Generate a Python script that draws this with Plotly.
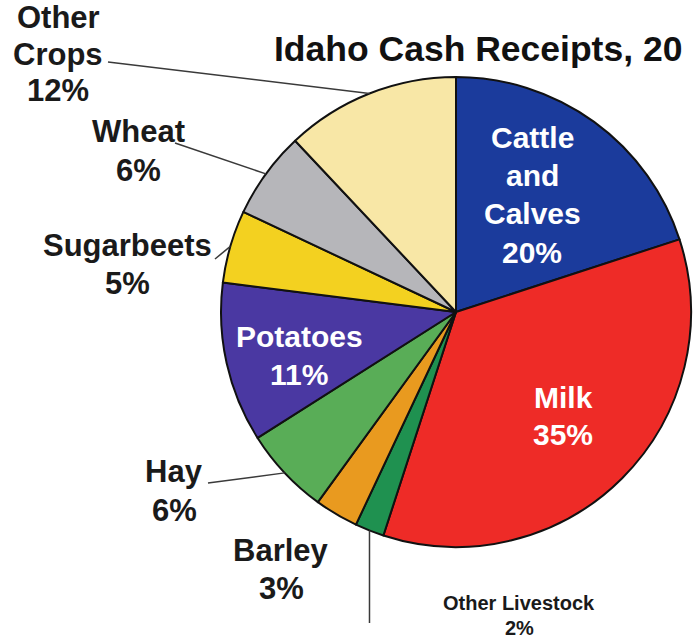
import math
import plotly.graph_objects as go

# Idaho cash receipts by commodity (percent of total), clockwise from 12 o'clock
categories = ["Cattle and Calves", "Milk", "Other Livestock", "Barley", "Hay",
              "Potatoes", "Sugarbeets", "Wheat", "Other Crops"]
shares = [20, 35, 2, 3, 6, 11, 5, 6, 12]
name_lines = [["Cattle", "and", "Calves"], ["Milk"], ["Other Livestock"], ["Barley"],
              ["Hay"], ["Potatoes"], ["Sugarbeets"], ["Wheat"], ["Other", "Crops"]]
slice_colors = ["#1b3b9c", "#ee2b27", "#1f9150", "#e99a1f", "#59ad57",
                "#4a38a2", "#f3d120", "#b6b6ba", "#f8e7a6"]
title_text = "Idaho Cash Receipts, 20"

W, H = 698, 641
FONT = "Liberation Sans, Arial, Helvetica, sans-serif"

# pie placement in pixels
CX, CY, R = 456, 312, 235


def px(x):
    return x / W


def py(y):
    return 1 - y / H


# label layout per category: centre x, first baseline, line step, size, colour
label_style = {
    "Cattle and Calves": (532, 148, 38.3, 30, "white"),
    "Milk": (563, 408, 37, 30, "white"),
    "Other Livestock": (519, 610, 25, 20, "#1a1a1a"),
    "Barley": (281, 562, 38, 31, "#1a1a1a"),
    "Hay": (174, 483, 39, 31, "#1a1a1a"),
    "Potatoes": (299, 347, 38, 30, "white"),
    "Sugarbeets": (127, 257, 38, 31, "#1a1a1a"),
    "Wheat": (138, 143, 39, 31, "#1a1a1a"),
    "Other Crops": (58, 29, 36.5, 31, "#1a1a1a"),
}

# leader line start points (label side) for outside labels
leader_from = {
    "Other Crops": (108, 62),
    "Wheat": (175, 143),
    "Sugarbeets": (215, 259),
    "Hay": (208, 483),
    "Other Livestock": None,  # vertical drop below the slice
}

fig = go.Figure(go.Pie(
    labels=categories,
    values=shares,
    sort=False,
    direction="clockwise",
    rotation=0,
    textinfo="none",
    hoverinfo="label+percent",
    marker=dict(colors=slice_colors, line=dict(color="#111111", width=2)),
    domain=dict(x=[px(CX - R), px(CX + R)], y=[py(CY + R), py(CY - R)]),
    showlegend=False,
))

annotations = []
shapes = []

total = sum(shares)
cum = 0
for cat, lines, val in zip(categories, name_lines, shares):
    mid = (cum + val / 2) / total * 2 * math.pi
    cum += val
    ex, ey = CX + R * math.sin(mid), CY - R * math.cos(mid)

    x0, base, step, size, color = label_style[cat]
    for i, t in enumerate(lines + [f"{val}%"]):
        yb = base + i * step
        annotations.append(dict(
            x=px(x0), y=py(yb - 0.36 * size), xref="paper", yref="paper",
            text=t, showarrow=False, xanchor="center", yanchor="middle",
            font=dict(family=FONT, size=size, color=color, weight="bold"),
        ))

    if cat in leader_from:
        start = leader_from[cat]
        if start is None:
            start = (ex, 623)
        shapes.append(dict(
            type="line", xref="paper", yref="paper",
            x0=px(start[0]), y0=py(start[1]), x1=px(ex), y1=py(ey),
            line=dict(color="#3a3a3a", width=1.5),
        ))

TITLE_SIZE = 35.5
annotations.append(dict(
    x=px(272), y=py(62 - 0.36 * TITLE_SIZE), xref="paper", yref="paper",
    text=title_text, showarrow=False, xanchor="left", yanchor="middle",
    font=dict(family=FONT, size=TITLE_SIZE, color="#111111", weight="bold"),
))

fig.update_layout(
    width=W, height=H,
    margin=dict(l=0, r=0, t=0, b=0),
    paper_bgcolor="white",
    plot_bgcolor="white",
    annotations=annotations,
    shapes=shapes,
)

fig.write_html("out.html")
